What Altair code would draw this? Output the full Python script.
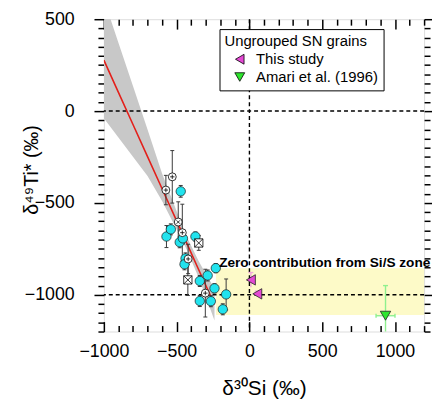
import altair as alt
import pandas as pd

# ---------------- data ----------------
X_DOMAIN = [-1000, 1200]
Y_DOMAIN = [-1200, 500]
x_label_values = [-1000, -500, 0, 500, 1000]
x_tick_values = list(range(-1000, 1201, 100))
y_tick_values = list(range(-1200, 501, 50))

# cyan grains
cyan_x = [-472, -570, -540, -479, -457, -371, -439, -446, -231, -287, -341, -240, -160, -341, -265, -183]
cyan_y = [-437, -683, -644, -714, -693, -683, -802, -834, -855, -895, -925, -965, -998, -1034, -1035, -1079]
cyan_err = [32, 60, 30, 30, 30, 25, 30, 30, 25, 30, 30, 25, 84, 30, 30, 30]

# open symbols (circle-plus, circle-cross, boxed-cross)
open_type = ["plus", "plus", "plus", "plus", "plus", "cross", "box", "box"]
open_x = [-530, -574, -461, -421, -303, -489, -348, -423]
open_y = [-358, -430, -662, -805, -991, -604, -718, -919]
open_err = [143, 80, 155, 80, 130, 110, 40, 85]

# ungrouped SN grains
tri_group = ["This study", "This study", "Amari et al. (1996)"]
tri_x = [10, 54, 935]
tri_y = [-919, -995, -1114]
tri_yerr = [40, 15, 164]
tri_xerr = [0, 0, 65]
tri_groups = ["This study", "Amari et al. (1996)"]
tri_colors = ["#e448d4", "#2ee62e"]
tri_err_colors = ["#f2a6dc", "#8ef08e"]

# regression line and its band
fit_x = [-1000, -900, -800, -700, -600, -500, -430, -350, -300, -240]
fit_y = [277, 102, -73, -248, -423, -598, -720, -861, -948, -1053]
band_hi = [609, 372, 136, -101, -340, -545, -685, -815, -885, -965]
band_lo = [-39, -144, -249, -353, -490, -645, -755, -905, -1010, -1140]

# zero contribution zone
zone_x = [-230]
zone_x2 = [1200]
zone_y = [-1110]
zone_y2 = [-855]
note_x = [-208]
note_y = [-848]
note_text = ["Zero contribution from Si/S zone"]

hline_y = [0, -1000]
vline_x = [0]

# ---------------- chart ----------------
W, H = 324, 316
FONT = "Liberation Sans"

xs = alt.Scale(domain=X_DOMAIN, nice=False, zero=False)
ys = alt.Scale(domain=Y_DOMAIN, nice=False, zero=False)
tick_len = {"condition": {"test": "datum.value % 500 === 0", "value": 10}, "value": 6}

ax_x_main = alt.Axis(orient="bottom", values=x_label_values, format="d", ticks=False, domain=False,
                     grid=False, labelPadding=11, labelFontSize=18, labelColor="black", labelFont=FONT,
                     labelFlush=False, title="δ³⁰Si (‰)", titleFontSize=21, titleFontWeight="normal",
                     titleColor="black", titleFont=FONT, titleY=58, titleBaseline="middle")
ax_x_in_bottom = alt.Axis(orient="top", offset=-H, values=x_tick_values, labels=False, domain=False,
                          grid=False, ticks=True, tickSize=tick_len, tickColor="black", tickWidth=1.5, title="")
ax_x_in_top = alt.Axis(orient="bottom", offset=-H, values=x_tick_values, labels=False, domain=False,
                       grid=False, ticks=True, tickSize=tick_len, tickColor="black", tickWidth=1.5, title="")
ax_y_left = alt.Axis(orient="left", values=y_tick_values, format="d",
                     labelExpr="datum.value % 500 === 0 ? datum.label : ''",
                     tickSize=tick_len, tickColor="black", tickWidth=1.5, domain=False, grid=False,
                     labelPadding=20, labelFontSize=18, labelColor="black", labelFont=FONT,
                     labelFlush=False, title="δ⁴⁹Ti* (‰)", titleFontSize=20, titleFontWeight="normal",
                     titleColor="black", titleFont=FONT, titleX=-73, titleY=152, titleAlign="center",
                     titleAngle=270, titleBaseline="middle")
ax_y_right = alt.Axis(orient="right", values=y_tick_values, labels=False, tickSize=tick_len,
                      tickColor="black", tickWidth=1.5, domain=False, grid=False, title="")

zone_df = pd.DataFrame({"x": zone_x, "x2": zone_x2, "y": zone_y, "y2": zone_y2})
zone = alt.Chart(zone_df).mark_rect(color="#fdfac8").encode(
    x=alt.X("x:Q", scale=xs, axis=ax_x_main), x2="x2:Q",
    y=alt.Y("y:Q", scale=ys, axis=ax_y_left), y2="y2:Q")

fit_df = pd.DataFrame({"x": fit_x, "y": fit_y, "lo": band_lo, "hi": band_hi})
band = alt.Chart(fit_df).mark_area(color="#c8c8c8", opacity=1, clip=True).encode(
    x=alt.X("x:Q", scale=xs, axis=ax_x_in_bottom),
    y=alt.Y("lo:Q", scale=ys, axis=None), y2="hi:Q")

hrule = alt.Chart(pd.DataFrame({"y": hline_y})).mark_rule(
    color="black", strokeDash=[4, 3], strokeWidth=1.4).encode(
    y=alt.Y("y:Q", scale=ys, axis=ax_y_right))
vrule = alt.Chart(pd.DataFrame({"x": vline_x})).mark_rule(
    color="black", strokeDash=[4, 3], strokeWidth=1.4).encode(
    x=alt.X("x:Q", scale=xs, axis=ax_x_in_top))

fit_line = alt.Chart(fit_df).mark_line(color="#e3201b", strokeWidth=1.6, clip=True).encode(
    x=alt.X("x:Q", scale=xs, axis=None), y=alt.Y("y:Q", scale=ys, axis=None))

err_df = pd.DataFrame({
    "x": cyan_x + open_x,
    "y": cyan_y + open_y,
    "e": cyan_err + open_err,
})
err_df["lo"] = err_df["y"] - err_df["e"]
err_df["hi"] = err_df["y"] + err_df["e"]
ebar = alt.Chart(err_df).mark_rule(color="#3a3a3a", strokeWidth=1).encode(
    x=alt.X("x:Q", scale=xs, axis=None), y=alt.Y("lo:Q", scale=ys, axis=None), y2="hi:Q")
cap_lo = alt.Chart(err_df).mark_point(shape="M-1,0L1,0", filled=False, size=16, color="#3a3a3a",
                                      strokeWidth=1, opacity=1).encode(
    x=alt.X("x:Q", scale=xs, axis=None), y=alt.Y("lo:Q", scale=ys, axis=None))
cap_hi = alt.Chart(err_df).mark_point(shape="M-1,0L1,0", filled=False, size=16, color="#3a3a3a",
                                      strokeWidth=1, opacity=1).encode(
    x=alt.X("x:Q", scale=xs, axis=None), y=alt.Y("hi:Q", scale=ys, axis=None))

cyan_df = pd.DataFrame({"x": cyan_x, "y": cyan_y})
cyan = alt.Chart(cyan_df).mark_point(shape="circle", filled=True, fill="#22e3ee", stroke="#1a1a1a",
                                     strokeWidth=0.7, size=90, opacity=1).encode(
    x=alt.X("x:Q", scale=xs, axis=None), y=alt.Y("y:Q", scale=ys, axis=None))

open_df = pd.DataFrame({"type": open_type, "x": open_x, "y": open_y})
circ_df = open_df[open_df["type"] != "box"]
box_df = open_df[open_df["type"] == "box"]
plus_df = open_df[open_df["type"] == "plus"]
cross_df = open_df[open_df["type"] == "cross"]

open_circ = alt.Chart(circ_df).mark_point(shape="circle", filled=True, fill="white", stroke="black",
                                          strokeWidth=0.8, size=64, opacity=1).encode(
    x=alt.X("x:Q", scale=xs, axis=None), y=alt.Y("y:Q", scale=ys, axis=None))
open_box = alt.Chart(box_df).mark_point(shape="square", filled=True, fill="white", stroke="black",
                                        strokeWidth=0.8, size=70, opacity=1).encode(
    x=alt.X("x:Q", scale=xs, axis=None), y=alt.Y("y:Q", scale=ys, axis=None))
plus_glyph = alt.Chart(plus_df).mark_point(shape="M-1,0L1,0M0,-1L0,1", filled=False, color="black",
                                           strokeWidth=0.8, size=20, opacity=1).encode(
    x=alt.X("x:Q", scale=xs, axis=None), y=alt.Y("y:Q", scale=ys, axis=None))
cross_glyph = alt.Chart(cross_df).mark_point(shape="M-0.7,-0.7L0.7,0.7M-0.7,0.7L0.7,-0.7", filled=False,
                                             color="black", strokeWidth=0.8, size=25, opacity=1).encode(
    x=alt.X("x:Q", scale=xs, axis=None), y=alt.Y("y:Q", scale=ys, axis=None))
box_glyph = alt.Chart(box_df).mark_point(shape="M-1,-1L1,1M-1,1L1,-1", filled=False, color="black",
                                         strokeWidth=0.8, size=70, opacity=1).encode(
    x=alt.X("x:Q", scale=xs, axis=None), y=alt.Y("y:Q", scale=ys, axis=None))

tri_df = pd.DataFrame({"group": tri_group, "x": tri_x, "y": tri_y, "ye": tri_yerr, "xe": tri_xerr})
tri_df["ylo"] = tri_df["y"] - tri_df["ye"]
tri_df["yhi"] = tri_df["y"] + tri_df["ye"]
tri_df["xlo"] = tri_df["x"] - tri_df["xe"]
tri_df["xhi"] = tri_df["x"] + tri_df["xe"]

err_layers = []
for grp, ecol in zip(tri_groups, tri_err_colors):
    gdf = tri_df[tri_df["group"] == grp]
    err_layers.append(alt.Chart(gdf).mark_rule(strokeWidth=1.4, clip=True, color=ecol).encode(
        x=alt.X("x:Q", scale=xs, axis=None), y=alt.Y("ylo:Q", scale=ys, axis=None), y2="yhi:Q"))
    err_layers.append(alt.Chart(gdf).mark_point(shape="M-1,0L1,0", filled=False, size=25, strokeWidth=1.4,
                                                opacity=1, color=ecol).encode(
        x=alt.X("x:Q", scale=xs, axis=None), y=alt.Y("yhi:Q", scale=ys, axis=None)))
    hdf = gdf[gdf["xe"] > 0]
    if len(hdf):
        err_layers.append(alt.Chart(hdf).mark_rule(strokeWidth=1.4, color=ecol).encode(
            x=alt.X("xlo:Q", scale=xs, axis=None), x2="xhi:Q", y=alt.Y("y:Q", scale=ys, axis=None)))
        for fld in ["xlo", "xhi"]:
            err_layers.append(alt.Chart(hdf).mark_point(shape="M0,-1L0,1", filled=False, size=16,
                                                        strokeWidth=1.4, opacity=1, color=ecol).encode(
                x=alt.X(f"{fld}:Q", scale=xs, axis=None), y=alt.Y("y:Q", scale=ys, axis=None)))

legend = alt.Legend(orient="none", legendX=117, legendY=10, title="Ungrouped SN grains",
                    titleFontSize=15, titleFontWeight="normal", titleColor="black", titleFont=FONT,
                    labelFontSize=15, labelColor="black", labelFont=FONT, strokeColor="black",
                    fillColor="white", padding=5, symbolSize=100, symbolStrokeColor="black",
                    symbolStrokeWidth=0.8, rowPadding=2, titlePadding=3, labelOffset=9, symbolOffset=8)
tri = alt.Chart(tri_df).mark_point(filled=True, size=110, stroke="#222222", strokeWidth=0.8,
                                   opacity=1).encode(
    x=alt.X("x:Q", scale=xs, axis=None), y=alt.Y("y:Q", scale=ys, axis=None),
    color=alt.Color("group:N", scale=alt.Scale(domain=tri_groups, range=tri_colors), legend=legend),
    shape=alt.Shape("group:N", scale=alt.Scale(domain=tri_groups, range=["triangle-left", "triangle-down"]),
                    legend=legend))

note = alt.Chart(pd.DataFrame({"x": note_x, "y": note_y, "t": note_text})).mark_text(
    align="left", baseline="alphabetic", fontWeight="bold", fontSize=13.8, font=FONT, color="black").encode(
    x=alt.X("x:Q", scale=xs, axis=None), y=alt.Y("y:Q", scale=ys, axis=None), text="t:N")

chart = alt.layer(
    zone, band, hrule, vrule, fit_line, ebar, cap_lo, cap_hi, cyan, open_circ, open_box,
    plus_glyph, cross_glyph, box_glyph, *err_layers, tri, note
).resolve_axis(x="independent", y="independent").properties(
    width=W, height=H,
    autosize=alt.AutoSizeParams(type="none"),
    padding={"left": 97, "top": 9, "right": 8, "bottom": 72},
).configure_view(stroke="black", strokeWidth=2).configure(font=FONT, background="white")

chart.save("out.html", embed_options={"renderer": "svg", "actions": False})
